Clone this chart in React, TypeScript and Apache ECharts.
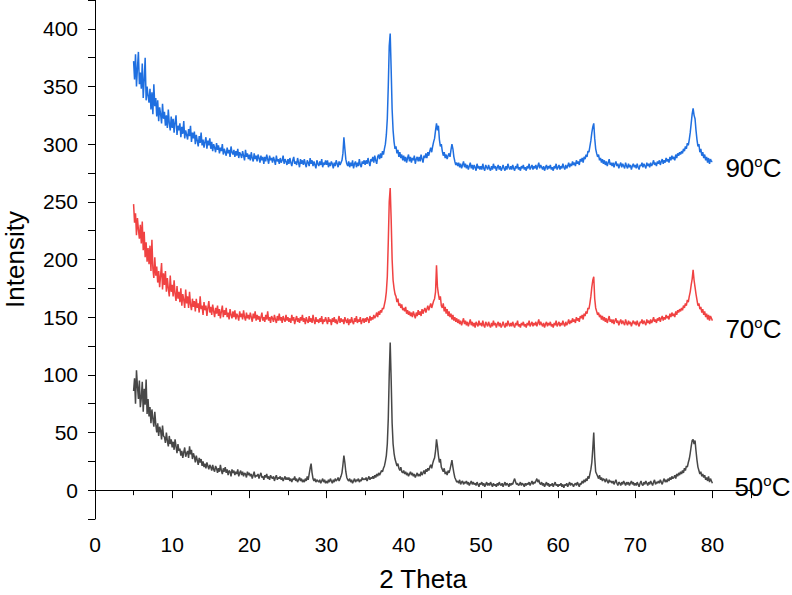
import React, { useEffect, useRef } from "react";
import * as echarts from "echarts";

// Sampling grid: each row covers 5° of 2θ, starting at ROW_START + ROW_SPAN * row,
// with THETA_STEP spacing (40 readings per row); the last row is the single 80° reading.
const ROW_START = 5;
const ROW_SPAN = 5;
const THETA_STEP = 0.125;

// 50 °C pattern
const I50: number[][] = [
  [86, 97, 75, 104, 90, 79, 95, 72, 80, 94, 68, 88, 74, 96, 66, 79, 64, 72, 58, 70, 62, 55, 68, 57, 50, 58, 47, 55, 52, 44, 56, 47, 46, 41, 50, 43, 38, 47, 40, 44],
  [37, 42, 35, 44, 38, 32, 40, 34, 36, 30, 34, 28, 33, 37, 29, 32, 34, 28, 38, 31, 35, 27, 32, 29, 24, 30, 26, 22, 28, 24, 27, 21, 25, 20, 23, 19, 24, 21, 18, 22],
  [20, 17, 22, 18, 16, 21, 19, 15, 19, 16, 22, 17, 14, 19, 16, 20, 15, 18, 13, 17, 16, 12, 18, 15, 17, 13, 16, 14, 18, 12, 15, 17, 13, 16, 12, 15, 14, 11, 16, 13],
  [15, 12, 14, 10, 13, 16, 11, 13, 12, 14, 10, 13, 15, 11, 12, 9, 13, 11, 14, 10, 12, 9, 13, 11, 10, 12, 8, 11, 13, 9, 11, 10, 12, 9, 11, 8, 10, 12, 9, 11],
  [9, 11, 8, 10, 7, 10, 9, 12, 8, 10, 7, 9, 11, 8, 10, 7, 9, 7, 10, 8, 12, 9, 14, 19, 23, 15, 10, 8, 10, 7, 9, 8, 7, 9, 6, 8, 10, 7, 9, 6],
  [8, 6, 9, 7, 10, 8, 6, 9, 7, 10, 8, 9, 11, 8, 10, 12, 15, 22, 30, 24, 16, 11, 9, 8, 10, 7, 9, 6, 8, 10, 7, 9, 8, 10, 7, 9, 8, 11, 9, 10],
  [9, 11, 8, 10, 12, 9, 11, 10, 12, 10, 13, 11, 14, 12, 15, 13, 15, 17, 16, 19, 21, 25, 30, 40, 62, 100, 128, 96, 58, 40, 32, 27, 24, 21, 23, 19, 17, 20, 16, 15],
  [17, 14, 16, 13, 15, 12, 14, 16, 13, 15, 12, 14, 11, 13, 15, 12, 14, 12, 16, 13, 15, 17, 14, 18, 16, 19, 17, 20, 22, 19, 23, 26, 28, 34, 44, 38, 30, 24, 27, 20],
  [18, 16, 19, 14, 16, 13, 17, 15, 18, 22, 26, 20, 15, 11, 9, 7, 8, 6, 9, 5, 7, 8, 5, 7, 6, 8, 5, 7, 4, 6, 8, 5, 7, 5, 6, 4, 7, 5, 3, 6],
  [5, 7, 4, 6, 3, 5, 7, 4, 6, 4, 7, 5, 3, 6, 4, 5, 3, 6, 4, 7, 5, 4, 6, 3, 5, 7, 4, 6, 5, 3, 6, 4, 6, 5, 8, 10, 7, 5, 6, 4],
  [5, 7, 4, 6, 5, 3, 6, 4, 6, 5, 7, 4, 6, 8, 5, 7, 6, 8, 10, 7, 9, 6, 5, 7, 4, 6, 3, 5, 7, 4, 6, 3, 5, 4, 6, 3, 5, 7, 4, 5],
  [3, 5, 4, 6, 3, 5, 2, 5, 4, 6, 3, 5, 7, 4, 6, 5, 3, 5, 6, 4, 7, 5, 3, 6, 5, 8, 6, 9, 7, 10, 8, 12, 10, 14, 18, 24, 36, 50, 28, 16],
  [14, 12, 10, 13, 9, 11, 8, 10, 9, 7, 10, 8, 6, 9, 7, 8, 6, 8, 5, 7, 9, 6, 4, 7, 6, 4, 7, 5, 8, 6, 4, 7, 5, 7, 4, 6, 8, 5, 7, 4],
  [6, 4, 7, 5, 3, 6, 8, 5, 4, 7, 5, 8, 6, 4, 7, 5, 8, 6, 4, 7, 9, 5, 7, 6, 8, 6, 9, 7, 5, 8, 10, 7, 9, 7, 10, 8, 11, 9, 12, 10],
  [11, 13, 10, 14, 12, 15, 13, 16, 14, 17, 15, 19, 17, 21, 20, 24, 27, 32, 38, 43, 44, 40, 43, 34, 26, 20, 17, 14, 16, 12, 14, 11, 13, 9, 11, 8, 12, 7, 10, 8],
  [6],
];

// 70 °C pattern
const I70: number[][] = [
  [248, 232, 240, 221, 236, 226, 218, 230, 214, 233, 208, 224, 202, 215, 198, 210, 196, 212, 190, 217, 192, 184, 202, 186, 194, 180, 190, 176, 186, 197, 174, 188, 178, 190, 172, 184, 175, 168, 186, 172],
  [178, 168, 182, 170, 164, 177, 166, 172, 163, 175, 160, 170, 165, 158, 174, 162, 168, 158, 172, 161, 156, 166, 159, 164, 155, 166, 158, 162, 154, 168, 157, 160, 152, 163, 156, 160, 151, 158, 164, 154],
  [159, 152, 161, 155, 150, 158, 153, 160, 151, 157, 149, 155, 160, 150, 156, 152, 158, 150, 154, 148, 157, 152, 149, 155, 150, 156, 148, 153, 151, 147, 155, 150, 153, 148, 156, 150, 147, 154, 149, 152],
  [148, 154, 150, 146, 153, 149, 155, 147, 152, 148, 151, 146, 150, 154, 147, 150, 146, 152, 148, 155, 147, 150, 145, 151, 149, 146, 152, 148, 145, 151, 147, 153, 147, 150, 145, 151, 148, 146, 152, 147],
  [150, 146, 149, 145, 152, 147, 150, 144, 148, 151, 146, 149, 145, 150, 147, 152, 146, 149, 144, 150, 147, 145, 151, 146, 149, 145, 152, 147, 144, 150, 146, 148, 145, 149, 146, 151, 144, 148, 146, 150],
  [147, 144, 150, 146, 148, 143, 149, 146, 150, 145, 148, 144, 147, 151, 145, 149, 146, 148, 144, 150, 147, 145, 149, 143, 148, 145, 150, 146, 144, 149, 146, 151, 145, 148, 146, 150, 144, 147, 149, 145],
  [149, 146, 150, 148, 145, 151, 147, 150, 148, 152, 149, 151, 154, 150, 155, 152, 156, 154, 158, 157, 161, 165, 172, 185, 215, 250, 262, 235, 200, 182, 175, 170, 168, 163, 166, 160, 162, 158, 161, 156],
  [158, 155, 159, 153, 156, 152, 155, 151, 154, 150, 155, 152, 149, 154, 151, 156, 152, 155, 151, 157, 153, 156, 158, 154, 157, 160, 156, 159, 162, 158, 161, 164, 166, 172, 195, 176, 170, 165, 168, 160],
  [158, 162, 155, 159, 153, 157, 151, 155, 150, 153, 148, 152, 147, 150, 146, 149, 145, 148, 144, 147, 143, 146, 149, 144, 147, 143, 146, 142, 145, 148, 143, 146, 142, 145, 141, 146, 144, 142, 147, 143],
  [145, 142, 147, 143, 141, 146, 144, 142, 146, 143, 141, 145, 142, 147, 143, 145, 141, 144, 146, 142, 145, 141, 143, 146, 143, 141, 145, 142, 147, 144, 142, 145, 142, 146, 143, 141, 145, 143, 147, 142],
  [144, 141, 145, 143, 146, 142, 144, 141, 145, 143, 147, 142, 144, 146, 142, 145, 143, 146, 142, 145, 148, 143, 146, 144, 142, 145, 141, 144, 146, 142, 145, 143, 146, 142, 144, 141, 145, 143, 147, 142],
  [144, 146, 142, 145, 143, 147, 144, 142, 146, 143, 145, 148, 144, 147, 145, 149, 146, 148, 145, 150, 147, 149, 146, 151, 149, 152, 148, 153, 151, 155, 153, 158, 157, 162, 168, 176, 182, 185, 166, 158],
  [155, 152, 154, 150, 152, 148, 151, 147, 150, 146, 149, 145, 148, 151, 146, 148, 145, 148, 144, 147, 149, 145, 147, 143, 146, 148, 144, 147, 145, 143, 148, 145, 143, 147, 144, 146, 142, 145, 147, 144],
  [146, 143, 147, 144, 142, 146, 145, 148, 144, 147, 145, 143, 148, 145, 147, 144, 148, 145, 147, 150, 146, 148, 145, 149, 147, 150, 146, 149, 151, 147, 150, 148, 152, 149, 151, 148, 153, 150, 154, 151],
  [153, 150, 155, 152, 156, 154, 157, 155, 158, 156, 160, 158, 162, 160, 165, 163, 168, 172, 178, 183, 191, 182, 176, 170, 165, 160, 162, 157, 159, 154, 157, 152, 155, 150, 153, 148, 152, 147, 151, 149],
  [147],
];

// 90 °C pattern
const I90: number[][] = [
  [372, 356, 378, 350, 366, 380, 352, 362, 348, 370, 340, 356, 375, 338, 350, 342, 336, 348, 330, 345, 326, 352, 333, 340, 324, 338, 320, 332, 326, 318, 335, 322, 328, 316, 325, 314, 330, 318, 312, 324],
  [314, 322, 310, 319, 325, 308, 316, 312, 318, 306, 315, 309, 320, 305, 312, 308, 304, 313, 307, 316, 302, 310, 305, 311, 300, 308, 303, 298, 307, 301, 310, 299, 304, 297, 302, 306, 296, 303, 299, 305],
  [296, 302, 294, 300, 297, 293, 301, 295, 299, 292, 297, 294, 300, 291, 296, 293, 290, 297, 292, 295, 289, 298, 293, 291, 295, 289, 294, 290, 296, 288, 293, 291, 288, 294, 290, 286, 295, 289, 292, 287],
  [291, 286, 293, 288, 285, 292, 287, 290, 285, 291, 288, 284, 290, 286, 289, 283, 289, 285, 291, 287, 283, 290, 286, 288, 284, 289, 286, 282, 290, 285, 287, 283, 288, 284, 286, 290, 283, 287, 285, 282],
  [287, 283, 288, 284, 281, 286, 289, 283, 285, 282, 288, 284, 280, 287, 283, 286, 282, 287, 283, 280, 286, 284, 281, 288, 283, 286, 281, 285, 282, 279, 286, 283, 281, 285, 282, 287, 280, 284, 282, 286],
  [282, 286, 280, 284, 281, 285, 283, 279, 284, 281, 286, 283, 280, 285, 282, 284, 286, 292, 306, 296, 287, 283, 281, 285, 280, 284, 281, 286, 279, 283, 285, 280, 284, 281, 287, 282, 280, 285, 283, 286],
  [282, 286, 283, 288, 284, 281, 287, 285, 289, 284, 290, 286, 283, 289, 291, 287, 292, 288, 294, 291, 296, 300, 308, 322, 350, 385, 396, 365, 330, 312, 302, 296, 298, 292, 295, 289, 293, 288, 291, 286],
  [290, 285, 289, 284, 288, 291, 285, 289, 284, 288, 286, 290, 283, 287, 289, 285, 289, 285, 291, 287, 284, 290, 288, 292, 288, 293, 290, 294, 297, 293, 298, 302, 305, 312, 318, 312, 316, 304, 298, 300],
  [294, 290, 293, 288, 291, 287, 290, 292, 289, 295, 300, 296, 289, 285, 282, 284, 281, 284, 280, 283, 279, 282, 285, 280, 283, 279, 282, 278, 281, 284, 279, 282, 278, 282, 280, 277, 283, 279, 281, 278],
  [281, 278, 283, 279, 277, 282, 280, 278, 282, 279, 277, 281, 278, 283, 279, 281, 277, 280, 282, 278, 281, 277, 279, 282, 279, 277, 281, 278, 283, 280, 278, 281, 278, 282, 279, 277, 281, 279, 283, 278],
  [280, 277, 281, 279, 282, 278, 280, 277, 281, 279, 283, 278, 280, 282, 278, 281, 279, 282, 278, 281, 284, 279, 282, 280, 278, 281, 277, 280, 282, 278, 281, 279, 282, 278, 280, 277, 281, 279, 283, 278],
  [280, 282, 278, 281, 279, 283, 280, 278, 282, 279, 281, 284, 280, 283, 281, 285, 282, 284, 281, 286, 283, 285, 282, 287, 285, 288, 284, 289, 287, 291, 289, 294, 293, 298, 303, 310, 315, 318, 305, 296],
  [292, 289, 291, 286, 288, 284, 287, 283, 286, 282, 285, 281, 284, 287, 282, 284, 281, 284, 280, 283, 285, 281, 283, 279, 282, 284, 280, 283, 281, 279, 284, 281, 279, 283, 280, 282, 278, 281, 283, 280],
  [282, 279, 283, 280, 278, 282, 281, 284, 280, 283, 281, 279, 284, 281, 283, 280, 284, 281, 283, 286, 282, 284, 281, 285, 283, 286, 282, 285, 287, 283, 286, 284, 288, 285, 287, 284, 289, 286, 290, 287],
  [289, 286, 291, 288, 292, 290, 293, 291, 294, 292, 296, 294, 298, 296, 301, 299, 304, 310, 318, 326, 331, 325, 322, 312, 304, 298, 300, 293, 296, 290, 293, 288, 291, 286, 289, 284, 288, 283, 287, 285],
  [285],
];

const SERIES_NAMES = ["90", "70", "50"];
const SERIES_COLORS = ["#1f6fe0", "#f04242", "#474747"];
const X_TICK_LABELS = ["0", "10", "20", "30", "40", "50", "60", "70", "80"];
const Y_TICK_LABELS = ["0", "50", "100", "150", "200", "250", "300", "350", "400"];

const FONT = "'Liberation Sans', Arial, Helvetica, sans-serif";

function toPairs(rows: number[][]) {
  const out: number[][] = [];
  rows.forEach((row, r) => {
    row.forEach((v, j) => {
      out.push([ROW_START + ROW_SPAN * r + THETA_STEP * j, v]);
    });
  });
  return out;
}

export default function App() {
  const ref = useRef<HTMLDivElement>(null);

  useEffect(() => {
    if (!ref.current) return;
    const chart = echarts.init(ref.current, null, { renderer: "svg" });
    const datasets = [I90, I70, I50];
    const labelPlacement = [
      { distance: 13, offset: [0, 7] },
      { distance: 13, offset: [0, 8] },
      { distance: 22, offset: [0, 4] },
    ];

    chart.setOption({
      animation: false,
      backgroundColor: "#ffffff",
      grid: {
        left: 95,
        right: 41,
        top: 0,
        bottom: 76,
        containLabel: false,
        outerBoundsMode: "none",
      },
      xAxis: {
        type: "value",
        min: 0,
        max: 85,
        interval: 10,
        name: "2 Theta",
        nameLocation: "middle",
        nameGap: 47,
        nameTextStyle: { fontSize: 26, color: "#000", fontFamily: FONT },
        axisLine: { show: true, lineStyle: { color: "#000", width: 1 } },
        axisTick: { show: true, inside: false, length: 8, lineStyle: { color: "#000", width: 1 } },
        minorTick: { show: true, splitNumber: 2, length: 5, lineStyle: { color: "#000", width: 1 } },
        splitLine: { show: false },
        minorSplitLine: { show: false },
        axisLabel: {
          fontSize: 21,
          color: "#000",
          fontFamily: FONT,
          margin: 15,
          showMaxLabel: false,
          formatter: (v: number) => (X_TICK_LABELS.includes(String(v)) ? String(v) : ""),
        },
      },
      yAxis: {
        type: "value",
        min: -25,
        max: 425,
        interval: 25,
        name: "Intensity",
        nameLocation: "middle",
        nameGap: 67,
        nameTextStyle: { fontSize: 26, color: "#000", fontFamily: FONT },
        axisLine: { show: true, lineStyle: { color: "#000", width: 1 } },
        axisTick: { show: true, inside: false, length: 7, lineStyle: { color: "#000", width: 1 } },
        splitLine: { show: false },
        axisLabel: {
          fontSize: 21,
          color: "#000",
          fontFamily: FONT,
          margin: 17,
          formatter: (v: number) => (Y_TICK_LABELS.includes(String(v)) ? String(v) : ""),
        },
      },
      series: SERIES_NAMES.map((name, k) => ({
        name,
        type: "line",
        data: toPairs(datasets[k]),
        showSymbol: false,
        symbol: "none",
        lineStyle: { color: SERIES_COLORS[k], width: 1.5 },
        itemStyle: { color: SERIES_COLORS[k] },
        endLabel: {
          show: true,
          distance: labelPlacement[k].distance,
          offset: labelPlacement[k].offset,
          formatter: (p: any) => `{n|${p.seriesName}}{s|o}{n|C}`,
          rich: {
            n: { fontSize: 26, lineHeight: 28, color: "#000", fontFamily: FONT },
            s: { fontSize: 15, lineHeight: 15, verticalAlign: "top", color: "#000", fontFamily: FONT },
          },
        },
      })),
    });

    return () => chart.dispose();
  }, []);

  return (
    <div
      ref={ref}
      style={{ position: "absolute", left: 0, top: 0, width: 792, height: 595, background: "#fff" }}
    />
  );
}
